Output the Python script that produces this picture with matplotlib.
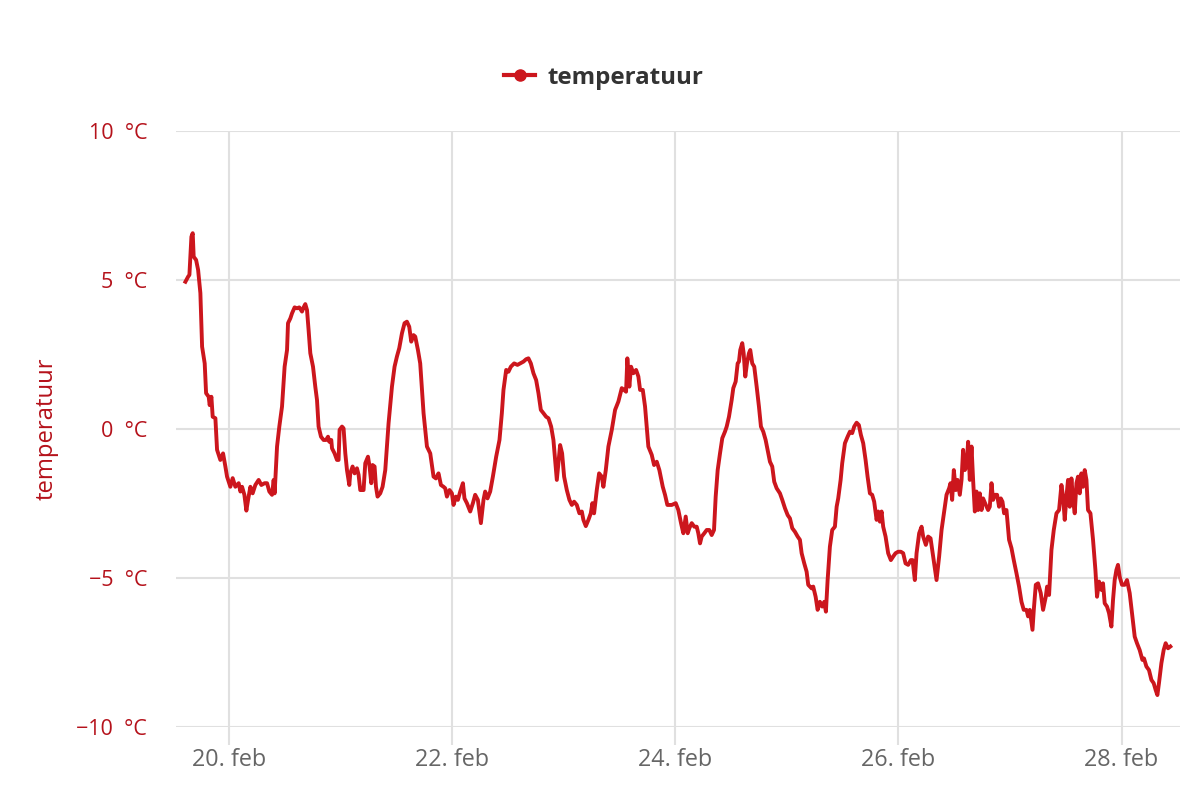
import matplotlib
matplotlib.use("Agg")
import matplotlib.pyplot as plt
import matplotlib.dates as mdates
from matplotlib.lines import Line2D
import datetime as dt

plt.rcParams['font.family'] = ['Open Sans', 'DejaVu Sans']

# hours since 19 Feb 00:00
hours = [14.54, 15.12, 15.40, 15.83, 16.11, 16.32, 16.84, 17.27, 17.76, 18.13, 18.69, 18.99, 19.55, 19.76,
         20.13, 20.41, 20.99, 21.35, 22.06, 22.64, 23.14, 23.50, 24.21, 24.71, 25.29, 26.00, 26.37, 26.73,
         27.23, 27.66, 28.02, 28.52, 29.01, 29.59, 30.30, 30.88, 31.59, 32.11, 32.60, 33.18, 33.53, 33.74,
         34.26, 34.75, 35.33, 35.89, 36.41, 36.62, 37.12, 37.48, 38.04, 38.56, 39.05, 39.63, 39.98, 40.34,
         40.71, 41.05, 41.42, 42.00, 42.49, 42.86, 43.20, 43.72, 44.28, 44.80, 45.23, 45.50, 45.93, 46.09,
         46.64, 47.16, 47.50, 47.72, 48.24, 48.58, 48.95, 49.31, 49.81, 50.02, 50.52, 50.95, 51.46, 51.81,
         52.17, 52.88, 53.25, 53.83, 54.17, 54.54, 54.82, 55.25, 55.55, 55.89, 56.47, 56.97, 57.55, 58.26,
         58.99, 59.55, 60.06, 60.56, 61.14, 61.70, 62.21, 62.71, 63.14, 63.63, 64.00, 64.58, 65.07, 65.79,
         66.15, 66.52, 67.23, 67.94, 68.45, 69.01, 69.53, 70.09, 70.45, 70.82, 71.38, 71.89, 72.24, 72.75,
         73.18, 73.68, 74.26, 74.60, 75.12, 75.83, 76.41, 76.90, 77.48, 78.13, 78.69, 79.05, 79.55, 80.13,
         80.71, 81.42, 82.13, 82.64, 82.99, 83.57, 84.06, 84.58, 85.29, 86.00, 86.58, 87.29, 87.87, 88.36,
         88.88, 89.44, 90.02, 90.52, 91.03, 91.59, 92.17, 92.67, 93.25, 93.74, 94.11, 94.47, 94.82, 95.18,
         95.61, 96.04, 96.62, 97.18, 97.70, 98.19, 98.77, 99.33, 99.85, 100.19, 100.71, 101.27, 101.78,
         102.13, 102.49, 103.07, 103.57, 104.15, 104.49, 105.01, 105.57, 106.30, 107.01, 107.72, 108.45,
         108.94, 109.37, 109.65, 110.08, 110.45, 110.94, 111.53, 112.02, 112.39, 112.97, 113.46, 114.17,
         114.90, 115.40, 115.98, 116.54, 117.27, 117.76, 118.26, 119.20, 120.06, 120.62, 121.20, 121.70,
         122.21, 122.64, 122.99, 123.50, 124.06, 124.58, 124.92, 125.29, 125.65, 126.21, 126.73, 127.29,
         127.80, 128.30, 128.66, 129.09, 129.59, 130.08, 130.66, 131.03, 131.52, 132.10, 132.45, 132.96,
         133.39, 133.67, 133.95, 134.38, 134.68, 135.03, 135.39, 135.82, 136.10, 136.53, 136.96, 137.48,
         137.97, 138.40, 138.90, 139.41, 139.84, 140.34, 140.83, 141.26, 141.78, 142.49, 142.99, 143.57,
         144.15, 144.64, 145.14, 145.72, 146.30, 146.79, 147.16, 147.72, 148.23, 148.58, 149.31, 149.65,
         150.17, 150.60, 151.09, 151.59, 152.02, 152.38, 152.75, 153.24, 153.74, 154.32, 154.69, 155.03,
         155.55, 155.89, 156.47, 157.05, 157.55, 158.04, 158.47, 158.99, 159.48, 159.91, 160.41, 160.92,
         161.35, 161.85, 162.34, 162.77, 163.29, 163.63, 164.00, 164.36, 164.71, 165.22, 165.78, 166.36,
         166.86, 167.37, 167.93, 168.51, 169.01, 169.52, 170.08, 170.66, 171.03, 171.52, 171.89, 172.45,
         172.97, 173.31, 173.89, 174.38, 174.90, 175.46, 176.19, 176.75, 177.27, 177.83, 178.34, 178.90,
         179.20, 179.55, 179.91, 180.34, 180.71, 181.20, 181.57, 181.91, 182.28, 182.64, 182.99, 183.35,
         183.72, 184.06, 184.43, 184.79, 185.14, 185.50, 185.87, 186.21, 186.79, 187.29, 187.65, 188.02,
         188.36, 188.73, 189.22, 189.65, 190.02, 190.38, 190.73, 191.24, 191.80, 192.32, 192.81, 193.39,
         193.95, 194.47, 194.96, 195.55, 195.89, 196.26, 196.84, 197.12, 197.55, 198.04, 198.62, 199.12,
         199.70, 199.98, 200.41, 200.92, 201.42, 202.00, 202.56, 203.07, 203.42, 203.78, 204.15, 204.49,
         204.86, 205.22, 205.57, 205.93, 206.30, 206.64, 207.01, 207.37, 207.72, 208.08, 208.45, 208.79,
         209.31, 209.87, 210.38, 210.73, 211.16, 211.67, 212.02, 212.38, 212.88, 213.31, 213.82, 214.17,
         214.53, 214.90, 215.24, 215.61, 216.10, 216.68, 217.18, 217.76, 218.34, 218.84, 219.33, 219.91,
         220.49, 220.84, 221.35, 221.91, 222.43, 222.92, 223.35, 223.72, 224.06, 224.58, 225.07, 225.50,
         226.00, 226.51]

temps = [4.94, 5.11, 5.17, 6.45, 6.57, 5.78, 5.67, 5.34, 4.56, 2.76, 2.20, 1.20, 1.08, 0.80,
         1.08, 0.41, 0.36, -0.70, -1.04, -0.82, -1.26, -1.60, -1.94, -1.65, -1.94, -1.82, -2.10, -1.94,
         -2.21, -2.74, -2.38, -1.94, -2.16, -1.88, -1.71, -1.88, -1.82, -1.82, -2.10, -2.21, -1.71, -2.16,
         -0.59, 0.08, 0.75, 2.09, 2.65, 3.55, 3.71, 3.88, 4.08, 4.05, 4.08, 3.94, 4.08, 4.19,
         3.99, 3.32, 2.54, 2.09, 1.42, 0.97, 0.08, -0.26, -0.37, -0.37, -0.26, -0.43, -0.37, -0.65,
         -0.82, -1.04, -1.04, -0.03, 0.08, 0.02, -0.82, -1.38, -1.88, -1.49, -1.26, -1.49, -1.32, -1.54,
         -2.05, -2.05, -1.15, -0.93, -1.26, -1.82, -1.21, -1.26, -1.94, -2.27, -2.16, -1.94, -1.38, 0.19,
         1.42, 2.09, 2.43, 2.71, 3.21, 3.55, 3.60, 3.43, 2.93, 3.15, 3.10, 2.65, 2.20, 0.53,
         -0.03, -0.59, -0.82, -1.60, -1.66, -1.49, -1.88, -1.94, -1.99, -2.27, -2.05, -2.16, -2.55, -2.27,
         -2.38, -2.10, -1.82, -2.33, -2.49, -2.77, -2.49, -2.21, -2.38, -3.16, -2.38, -2.10, -2.33, -2.10,
         -1.60, -0.93, -0.37, 0.53, 1.31, 1.98, 1.92, 2.09, 2.20, 2.15, 2.20, 2.26, 2.34, 2.37,
         2.20, 1.87, 1.64, 1.20, 0.64, 0.53, 0.41, 0.36, 0.08, -0.37, -1.04, -1.71, -1.15, -0.54,
         -0.82, -1.60, -2.05, -2.38, -2.55, -2.44, -2.55, -2.83, -2.77, -3.05, -3.26, -3.05, -2.83,
         -2.49, -2.83, -2.05, -1.49, -1.60, -1.94, -1.38, -0.59, -0.03, 0.64, 0.92, 1.37,
         1.31, 1.25, 2.37, 1.42, 2.09, 1.87, 1.98, 1.76, 1.31, 1.31, 0.75, -0.59,
         -0.87, -1.21, -1.10, -1.38, -1.94, -2.21, -2.55, -2.55, -2.49, -2.72, -3.16, -3.50,
         -2.94, -3.50, -3.33, -3.16, -3.28, -3.28, -3.50, -3.84, -3.61, -3.50, -3.39, -3.39,
         -3.56, -3.39, -2.27, -1.38, -0.82, -0.31, -0.09, 0.08, 0.41, 0.97, 1.37, 1.59,
         2.20, 2.26, 2.65, 2.88, 2.54, 1.76, 2.20, 2.54, 2.65, 2.20, 2.09, 1.42,
         0.75, 0.08, -0.09, -0.37, -0.70, -1.10, -1.26, -1.77, -1.99, -2.16, -2.38, -2.66,
         -2.89, -3.00, -3.33, -3.45, -3.61, -3.72, -4.17, -4.51, -4.79, -5.23, -5.35, -5.29,
         -5.63, -6.07, -5.80, -5.96, -5.80, -6.13, -5.07, -3.95, -3.39, -3.28, -2.61, -2.33,
         -1.71, -1.15, -0.48, -0.26, -0.09, -0.14, 0.08, 0.21, 0.13, -0.20, -0.48, -1.04,
         -1.60, -2.16, -2.21, -2.44, -3.05, -2.77, -3.11, -2.77, -3.28, -3.61, -4.17, -4.40,
         -4.28, -4.17, -4.12, -4.12, -4.17, -4.51, -4.56, -4.40, -4.40, -5.07, -4.17, -3.50,
         -3.28, -3.61, -3.89, -3.61, -3.67, -4.28, -5.07, -4.28, -3.39, -2.77, -2.21, -1.99,
         -1.82, -2.38, -1.38, -2.05, -1.71, -2.21, -1.71, -0.70, -1.38, -1.26, -0.43, -1.71,
         -0.59, -1.71, -2.77, -2.10, -2.72, -2.16, -2.72, -2.33, -2.55, -2.72, -2.61, -1.82,
         -2.38, -2.21, -2.21, -2.61, -2.33, -2.44, -2.83, -2.72, -3.72, -4.00, -4.40, -4.84,
         -5.29, -5.80, -6.07, -6.07, -6.29, -6.07, -6.74, -6.07, -5.23, -5.18, -5.51, -6.07,
         -5.63, -5.29, -5.57, -4.06, -3.39, -2.83, -2.72, -1.88, -2.27, -3.05, -2.27, -1.71,
         -2.61, -1.66, -2.38, -2.83, -1.82, -1.60, -2.16, -1.49, -1.94, -1.38, -1.71, -2.72,
         -2.83, -3.72, -4.73, -5.63, -5.12, -5.40, -5.18, -5.85, -5.96, -6.18, -6.63, -5.74,
         -5.07, -4.73, -4.56, -4.96, -5.23, -5.23, -5.07, -5.51, -6.29, -6.97, -7.19, -7.42,
         -7.75, -7.70, -7.97, -8.09, -8.42, -8.53, -8.76, -8.93, -8.53, -7.86, -7.42, -7.19,
         -7.36, -7.30]

start = dt.datetime(2019, 2, 19)
xlim_hours = [12.6, 228.5]
tick_days = [20, 22, 24, 26, 28]
y_ticks = [-10, -5, 0, 5, 10]
series_name = "temperatuur"

RED = "#cc161d"
LABEL_RED = "#b5121b"
GRID = "#e0e0e0"

times = [start + dt.timedelta(hours=h) for h in hours]

fig = plt.figure(figsize=(12, 8), dpi=100)
ax = fig.add_axes([0.147, 0.0913, 0.836, 0.745])

ax.plot(times, temps, color=RED, lw=2.8, solid_joinstyle='round', zorder=3)

ax.set_xlim(start + dt.timedelta(hours=xlim_hours[0]), start + dt.timedelta(hours=xlim_hours[1]))
ax.set_ylim(-10, 10)

xt = [dt.datetime(2019, 2, d) for d in tick_days]
ax.set_xticks(xt)
ax.set_xticklabels([f"{d}. feb" for d in tick_days])
ax.set_yticks(y_ticks)
ax.set_yticklabels([(f"\u2212{abs(v)}  °C" if v < 0 else f"{v}  °C") for v in y_ticks])

for s in ax.spines.values():
    s.set_visible(False)
ax.grid(True, color=GRID, lw=1.5, zorder=0)
ax.set_axisbelow(True)
ax.tick_params(axis='y', length=0, pad=21, labelsize=15.5, labelcolor=LABEL_RED)
ax.tick_params(axis='x', length=13, width=1.5, color=GRID, pad=2, labelsize=16.8, labelcolor="#666666")
for lbl in ax.get_yticklabels():
    lbl.set_horizontalalignment('right')

ax.set_ylabel(series_name, color=LABEL_RED, fontsize=17.2, labelpad=13)

handle = Line2D([], [], color=RED, lw=3, marker='o', markersize=8)
leg = fig.legend([handle], [series_name], loc='center', bbox_to_anchor=(0.503, 0.903),
                 frameon=False, handlelength=1.3, handletextpad=0.5,
                 prop={'weight': 'bold', 'size': 17.4})
for t in leg.get_texts():
    t.set_color("#333333")

fig.savefig("out.png", dpi=100, facecolor="white")
